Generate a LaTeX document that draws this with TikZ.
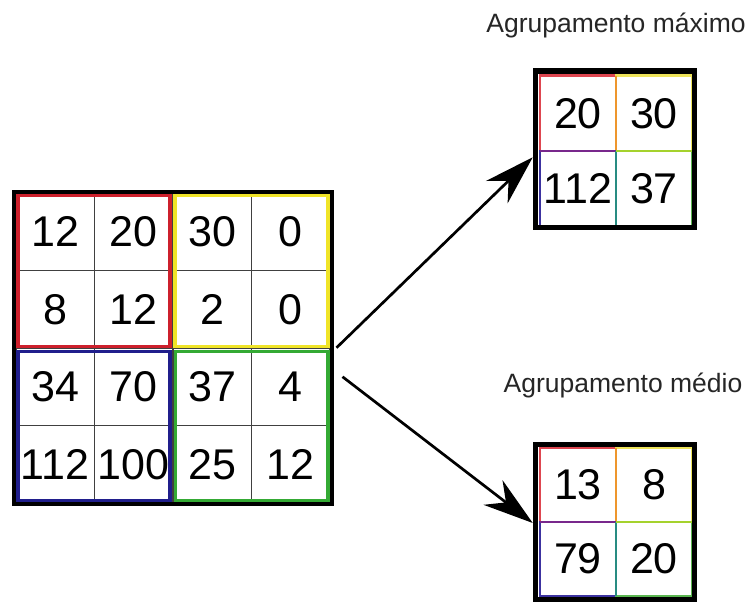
\documentclass[tikz,border=0pt]{standalone}
\usepackage{fontspec}
\setmainfont{Liberation Sans}
\usetikzlibrary{arrows.meta}
% quadrant colours of the input grid
\definecolor{qred}{RGB}{205,32,44}
\definecolor{qyellow}{RGB}{240,228,40}
\definecolor{qblue}{RGB}{32,30,140}
\definecolor{qgreen}{RGB}{52,170,52}
% softer tones in the pooled outputs, plus the blended shared edges
\definecolor{pred}{RGB}{222,70,80}
\definecolor{pyellow}{RGB}{238,228,90}
\definecolor{pblue}{RGB}{60,50,160}
\definecolor{pgreen}{RGB}{90,182,80}
\definecolor{porange}{RGB}{238,150,45}
\definecolor{ppurple}{RGB}{120,40,140}
\definecolor{pteal}{RGB}{40,140,130}
\definecolor{plime}{RGB}{165,210,45}
\begin{document}
\begin{tikzpicture}[x=1pt,y=-1pt,
  numfont/.style={font=\fontsize{43}{47}\selectfont},
  cell/.style={numfont, draw=black!75, line width=1.2pt, outer sep=0pt,
    inner sep=0pt, minimum width=78.5pt, minimum height=77.5pt},
  quad/.style={line width=3.5pt},
  frame/.style={draw=black, inner sep=0pt},
  pcell/.style={numfont, line width=2.8pt, outer sep=0pt, inner sep=0pt,
    minimum width=76pt},
  shared/.style={line width=2.8pt},
  caption/.style={font=\fontsize{26.5}{30}\selectfont, text=black!85, anchor=base},
  arrowline/.style={line width=2.7pt, -{Stealth[length=50pt,width=31pt]}}]
\useasboundingbox (0,0) rectangle (753,603);
\fill[white] (0,0) rectangle (753,603);

% input feature map 4x4
\node[cell] (c11) at (55.25,231.75) {12};
\node[cell] (c12) at (133.75,231.75) {20};
\node[cell] (c13) at (212.25,231.75) {30};
\node[cell] (c14) at (290.75,231.75) {0};
\node[cell] (c21) at (55.25,309.25) {8};
\node[cell] (c22) at (133.75,309.25) {12};
\node[cell] (c23) at (212.25,309.25) {2};
\node[cell] (c24) at (290.75,309.25) {0};
\node[cell] (c31) at (55.25,386.75) {34};
\node[cell] (c32) at (133.75,386.75) {70};
\node[cell] (c33) at (212.25,386.75) {37};
\node[cell] (c34) at (290.75,386.75) {4};
\node[cell] (c41) at (55.25,464.25) {112};
\node[cell] (c42) at (133.75,464.25) {100};
\node[cell] (c43) at (212.25,464.25) {25};
\node[cell] (c44) at (290.75,464.25) {12};

% 2x2 pooling windows
\draw[quad, qred]    (18,195)    rectangle (170,346.5);
\draw[quad, qyellow] (175,195)   rectangle (328,346.5);
\draw[quad, qblue]   (18,351.5)  rectangle (170,501);
\draw[quad, qgreen]  (175.5,351.5) rectangle (328,501);

\node[frame, line width=4pt, minimum width=318pt, minimum height=312.5pt]
  (in) at (172.5,347.75) {};

% max pooling output
\node[caption] (capmax) at (616,32) {Agrupamento máximo};
\node[pcell, draw=pred,    minimum height=75.5pt] (m11) at (578,113.25) {20};
\node[pcell, draw=pyellow, minimum height=75.5pt] (m12) at (654,113.25) {30};
\node[pcell, draw=pblue,   minimum height=75.5pt] (m21) at (578,188.75) {112};
\node[pcell, draw=pgreen,  minimum height=75.5pt] (m22) at (654,188.75) {37};
\draw[shared, porange] (m11.north east) -- (m11.south east);
\draw[shared, ppurple] (m11.south west) -- (m11.south east);
\draw[shared, pteal]   (m21.north east) -- (m21.south east);
\draw[shared, plime]   (m12.south west) -- (m12.south east);
\node[frame, line width=5.5pt, minimum width=159pt, minimum height=156.5pt]
  (mx) at (615,149.25) {};

% average pooling output
\node[caption] (capavg) at (623,392) {Agrupamento médio};
\node[pcell, draw=pred,    minimum height=74pt] (a11) at (578,485) {13};
\node[pcell, draw=pyellow, minimum height=74pt] (a12) at (654,485) {8};
\node[pcell, draw=pblue,   minimum height=74pt] (a21) at (578,559) {79};
\node[pcell, draw=pgreen,  minimum height=74pt] (a22) at (654,559) {20};
\draw[shared, porange] (a11.north east) -- (a11.south east);
\draw[shared, ppurple] (a11.south west) -- (a11.south east);
\draw[shared, pteal]   (a21.north east) -- (a21.south east);
\draw[shared, plime]   (a12.south west) -- (a12.south east);
\node[frame, line width=5.5pt, minimum width=159pt, minimum height=155pt]
  (av) at (615,522) {};

% pooling arrows
\draw[arrowline] ([xshift=3pt]in.east) -- ([yshift=-8pt]mx.west);
\draw[arrowline] ([shift={(9pt,-29pt)}]in.east) -- ([yshift=-1pt]av.west);
\end{tikzpicture}
\end{document}
